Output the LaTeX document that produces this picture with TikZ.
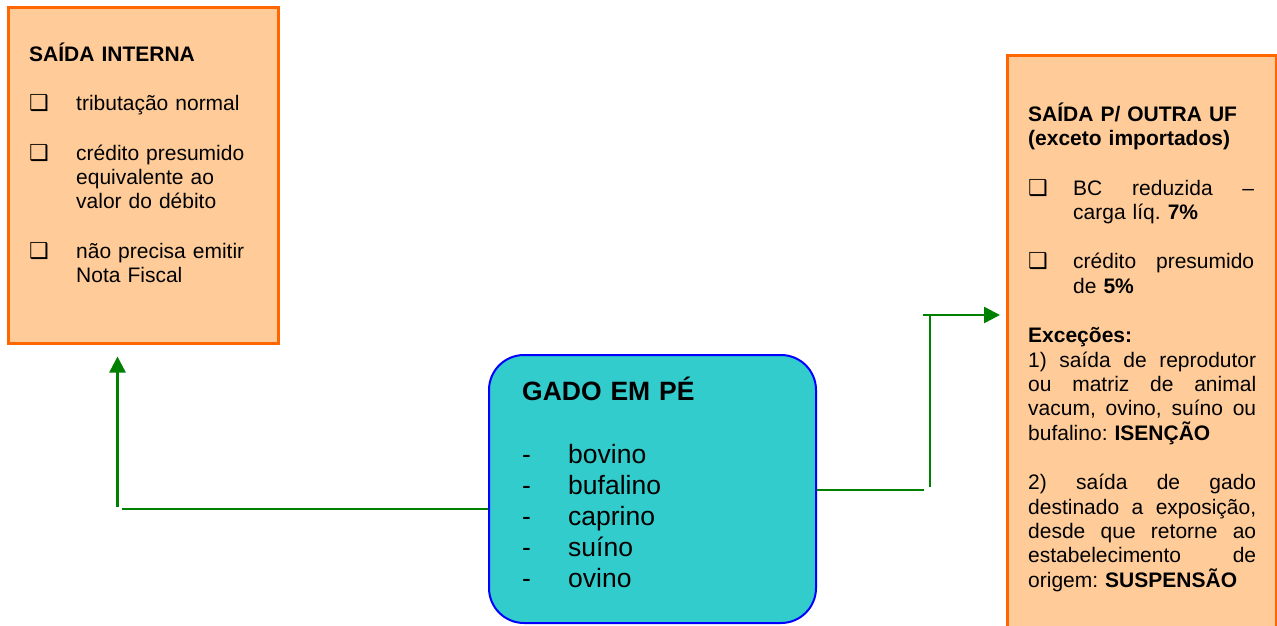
\documentclass[tikz,border=0pt]{standalone}
\usepackage{fontspec}
\setmainfont{Liberation Sans}
\newfontfamily\dejavu{DejaVu Sans}
\usetikzlibrary{arrows.meta}
\definecolor{peach}{RGB}{255,204,153}
\definecolor{orangeb}{RGB}{255,102,0}
\definecolor{tealbox}{RGB}{51,204,204}
\definecolor{gline}{RGB}{0,128,0}
\newcommand{\qglyph}{{\fontsize{22}{22}\selectfont\dejavu ❑}}
\newcommand{\bulq}{\makebox[47pt][l]{\qglyph}}
\newcommand{\bulr}{\makebox[45pt][l]{\qglyph}}
\newcommand{\indq}{\hspace*{47pt}}
\newcommand{\firststrut}{\rule{0pt}{21pt}}
\newcommand{\jline}[2]{\makebox[#1][s]{\spaceskip=0.278em plus 20em\relax #2}}
\begin{document}
\begin{tikzpicture}[x=1pt,y=-1pt,
  panel/.style={draw=orangeb, line width=2.5pt, fill=peach, inner sep=0pt, anchor=north west},
  gadobox/.style={draw=blue, line width=2pt, fill=tealbox, rounded corners=35pt, inner sep=0pt, anchor=north west},
  body/.style={inner sep=0pt, anchor=north west, align=left, font=\fontsize{21}{24.4}\selectfont\frenchspacing},
  link/.style={draw=gline, line width=2.5pt},
  tip/.style={-{Triangle[length=16pt,width=16pt]}}]
\clip (0,0) rectangle (1277,625);
\fill[white] (0,0) rectangle (1277,625);

% boxes
\node[panel, minimum width=270pt, minimum height=336pt] (interna) at (7,6) {};
\node[panel, minimum width=269pt, minimum height=620pt] (outra) at (1006,54) {};
\node[gadobox, minimum width=327pt, minimum height=268pt] (gado) at (488,354) {};

% texts
\node[body, text width=250pt] (tinterna) at (29,40) {\firststrut\textbf{SAÍDA INTERNA}\\[25pt]
\bulq tributação normal\\[25pt]
\bulq crédito presumido\\
\indq equivalente ao\\
\indq valor do débito\\[25pt]
\bulq não precisa emitir\\
\indq Nota Fiscal};

\node[body, text width=240pt] (toutra) at (1028,100) {\firststrut\textbf{SAÍDA P/ OUTRA UF}\\
\textbf{(exceto importados)}\\[25pt]
\bulr\jline{181pt}{BC reduzida –}\\
\hspace*{45pt}carga líq. \textbf{7\%}\\[25pt]
\bulr\jline{181pt}{crédito presumido}\\
\hspace*{45pt}de \textbf{5\%}\\[25pt]
\textbf{Exceções:}\\
\jline{228pt}{1) saída de reprodutor}\\
\jline{228pt}{ou matriz de animal}\\
\jline{228pt}{vacum, ovino, suíno ou}\\
bufalino: \textbf{ISENÇÃO}\\[25pt]
\jline{228pt}{2) saída de gado}\\
\jline{228pt}{destinado a exposição,}\\
\jline{228pt}{desde que retorne ao}\\
\jline{228pt}{estabelecimento de}\\
origem: \textbf{SUSPENSÃO}};

\node[body, text width=280pt, font=\fontsize{26.5}{31}\selectfont] (tgado) at (522,373.5) {\rule{0pt}{26.5pt}\textbf{GADO EM PÉ}\\[32pt]
\makebox[46pt][l]{-}bovino\\
\makebox[46pt][l]{-}bufalino\\
\makebox[46pt][l]{-}caprino\\
\makebox[46pt][l]{-}suíno\\
\makebox[46pt][l]{-}ovino};

% connectors
\coordinate (la) at (122,509);
\coordinate (lb) at (117.5,507);
\coordinate (ra) at (924,490);
\coordinate (rb) at (930,487);
\coordinate (rc) at (930,316);
\coordinate (rd) at (923,315);
\draw[link] (gado.west |- la) -- (la);
\draw[link, tip, shorten >=12pt] (lb) -- (lb |- interna.south);
\draw[link] (gado.east |- ra) -- (ra);
\draw[link] (rb) -- (rc);
\draw[link, tip, shorten >=6pt] (rd) -- (rd -| outra.west);
\end{tikzpicture}
\end{document}
